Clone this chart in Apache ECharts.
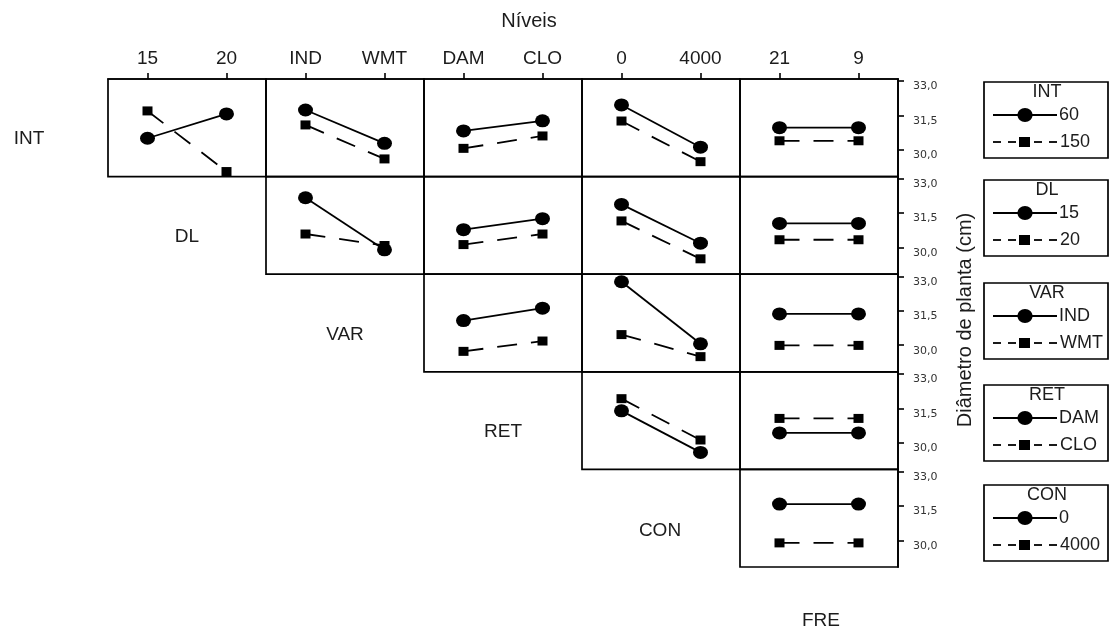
<!DOCTYPE html>
<html>
<head>
<meta charset="utf-8">
<script src="https://cdn.jsdelivr.net/npm/echarts@6/dist/echarts.min.js"></script>
<style>
  html, body { margin: 0; padding: 0; background: #fff; }
  #chart { width: 1115px; height: 630px; }
</style>
</head>
<body>
<div id="chart"></div>
<script>
// Factors of the experiment and their two levels
const factorNames = ['INT', 'DL', 'VAR', 'RET', 'CON', 'FRE'];
const factorLevels = [['60', '150'], ['15', '20'], ['IND', 'WMT'], ['DAM', 'CLO'], ['0', '4000'], ['21', '9']];

// Mean plant diameter (cm). One array per row factor; each entry is a panel against a
// later factor: [means for the row factor's 1st level, means for its 2nd level],
// each listed across the two levels of the column factor.
const meansINT = [
  [[30.51, 31.57], [31.70, 29.06]], // x DL
  [[31.74, 30.29], [31.09, 29.61]], // x VAR
  [[30.83, 31.27], [30.07, 30.61]], // x RET
  [[31.96, 30.12], [31.26, 29.49]], // x CON
  [[30.97, 30.97], [30.40, 30.40]]  // x FRE
];
const meansDL = [
  [[32.17, 29.90], [30.59, 30.09]],
  [[30.78, 31.26], [30.13, 30.59]],
  [[31.88, 30.19], [31.16, 29.51]],
  [[31.05, 31.05], [30.34, 30.34]]
];
const meansVAR = [
  [[31.07, 31.61], [29.73, 30.18]],
  [[32.76, 30.06], [30.46, 29.50]],
  [[31.36, 31.36], [29.99, 29.99]]
];
const meansRET = [
  [[31.39, 29.58], [31.92, 30.12]],
  [[30.43, 30.43], [31.06, 31.06]]
];
const meansCON = [
  [[31.58, 31.58], [29.89, 29.89]]
];
const rowMeans = [meansINT, meansDL, meansVAR, meansRET, meansCON];

const yTicks = [30.0, 31.5, 33.0];
const topTitle = 'Níveis';
const yTitle = 'Diâmetro de planta (cm)';

// Panel grid geometry
const LEFT0 = 108, CELL_W = 158, TOP0 = 79, CELL_H = 97.6;
const Y_MIN = 28.84, Y_MAX = 33.09;
const INK = '#000';
const TEXT = '#1c1c1c';
const SANS = "'Liberation Sans', Arial, sans-serif";

const grids = [], xAxes = [], yAxes = [], series = [];

rowMeans.forEach((panels, r) => {
  panels.forEach((pair, j) => {
    const c = r + 1 + j;            // factor shown along this panel's x axis
    const g = grids.length;
    const onTop = r === 0;
    const onRight = c === factorNames.length - 1;

    grids.push({
      left: LEFT0 + (c - 1) * CELL_W,
      top: TOP0 + r * CELL_H,
      width: CELL_W,
      height: CELL_H,
      show: true,
      borderColor: INK,
      borderWidth: 1.7,
      backgroundColor: 'transparent'
    });

    xAxes.push({
      gridIndex: g,
      type: 'category',
      data: factorLevels[c],
      position: 'top',
      boundaryGap: true,
      show: onTop,
      axisLine: { show: onTop, lineStyle: { color: INK, width: 1.7 } },
      axisTick: { show: onTop, alignWithLabel: true, length: 6, lineStyle: { color: INK, width: 1.6 } },
      axisLabel: { show: onTop, color: TEXT, fontFamily: SANS, fontSize: 19, margin: 11 },
      splitLine: { show: false }
    });

    yAxes.push({
      gridIndex: g,
      type: 'value',
      min: Y_MIN,
      max: Y_MAX,
      position: 'right',
      show: onRight,
      axisLine: { show: onRight, lineStyle: { color: INK, width: 1.7 } },
      axisTick: { show: onRight, customValues: yTicks, length: 6, inside: false, lineStyle: { color: INK, width: 1.6 } },
      axisLabel: {
        show: onRight,
        customValues: yTicks,
        formatter: v => v.toFixed(1).replace('.', ','),
        color: '#333',
        fontFamily: "'DejaVu Sans', Verdana, sans-serif",
        fontSize: 11,
        margin: 15,
        verticalAlign: 'top'
      },
      splitLine: { show: false }
    });

    pair.forEach((vals, lv) => {
      series.push({
        type: 'line',
        name: factorLevels[r][lv],
        xAxisIndex: g,
        yAxisIndex: g,
        data: vals,
        symbol: lv === 0 ? 'circle' : 'rect',
        symbolSize: lv === 0 ? [15, 13] : [10, 9],
        showSymbol: true,
        itemStyle: { color: INK },
        lineStyle: { color: INK, width: 1.8, type: lv === 0 ? 'solid' : [20, 14] },
        emphasis: { disabled: true },
        silent: true,
        animation: false
      });
    });
  });
});

// Factor names on the diagonal of the panel matrix
const diagPos = [[29, 139], [187, 237], [345, 335], [503, 432], [660, 531], [821, 621]];
const graphics = factorNames.map((name, k) => ({
  type: 'text',
  x: diagPos[k][0],
  y: diagPos[k][1],
  style: { text: name, font: `19px ${SANS}`, fill: TEXT, textAlign: 'center', textVerticalAlign: 'middle' },
  silent: true
}));

graphics.push({
  type: 'text', x: 529, y: 21,
  style: { text: topTitle, font: `20px ${SANS}`, fill: TEXT, textAlign: 'center', textVerticalAlign: 'middle' },
  silent: true
});
graphics.push({
  type: 'text', x: 965, y: 320, rotation: Math.PI / 2,
  style: { text: yTitle, font: `20px ${SANS}`, fill: TEXT, textAlign: 'center', textVerticalAlign: 'middle' },
  silent: true
});

// Boxed keys, one per row factor
const keyTops = [82, 180, 283, 385, 485];
const KEY_X = 984, KEY_W = 124, KEY_H = 76;
keyTops.forEach((ty, k) => {
  const elems = [];
  elems.push({ type: 'rect', shape: { x: KEY_X, y: ty, width: KEY_W, height: KEY_H },
    style: { fill: 'none', stroke: INK, lineWidth: 1.7 } });
  elems.push({ type: 'text', x: KEY_X + KEY_W / 2 + 1, y: ty + 10,
    style: { text: factorNames[k], font: `18px ${SANS}`, fill: TEXT, textAlign: 'center', textVerticalAlign: 'middle' } });
  // solid line with circle
  const y1 = ty + 33, y2 = ty + 60;
  elems.push({ type: 'line', shape: { x1: 993, y1: y1, x2: 1057, y2: y1 }, style: { stroke: INK, lineWidth: 1.8 } });
  elems.push({ type: 'ellipse', shape: { cx: 1025, cy: y1, rx: 7.5, ry: 7 }, style: { fill: INK } });
  elems.push({ type: 'text', x: 1059, y: y1,
    style: { text: factorLevels[k][0], font: `18px ${SANS}`, fill: TEXT, textAlign: 'left', textVerticalAlign: 'middle' } });
  // dashed line with square
  [[993, 1001], [1008, 1016], [1034, 1042], [1049, 1057]].forEach(([a, b]) => {
    elems.push({ type: 'line', shape: { x1: a, y1: y2, x2: b, y2: y2 }, style: { stroke: INK, lineWidth: 1.8 } });
  });
  elems.push({ type: 'rect', shape: { x: 1019, y: y2 - 5, width: 11, height: 10 }, style: { fill: INK } });
  elems.push({ type: 'text', x: 1060, y: y2,
    style: { text: factorLevels[k][1], font: `18px ${SANS}`, fill: TEXT, textAlign: 'left', textVerticalAlign: 'middle' } });
  graphics.push({ type: 'group', silent: true, children: elems });
});

const chart = echarts.init(document.getElementById('chart'), null, { renderer: 'canvas' });
chart.setOption({
  backgroundColor: '#fff',
  animation: false,
  grid: grids,
  xAxis: xAxes,
  yAxis: yAxes,
  series: series,
  graphic: graphics
});
</script>
</body>
</html>
